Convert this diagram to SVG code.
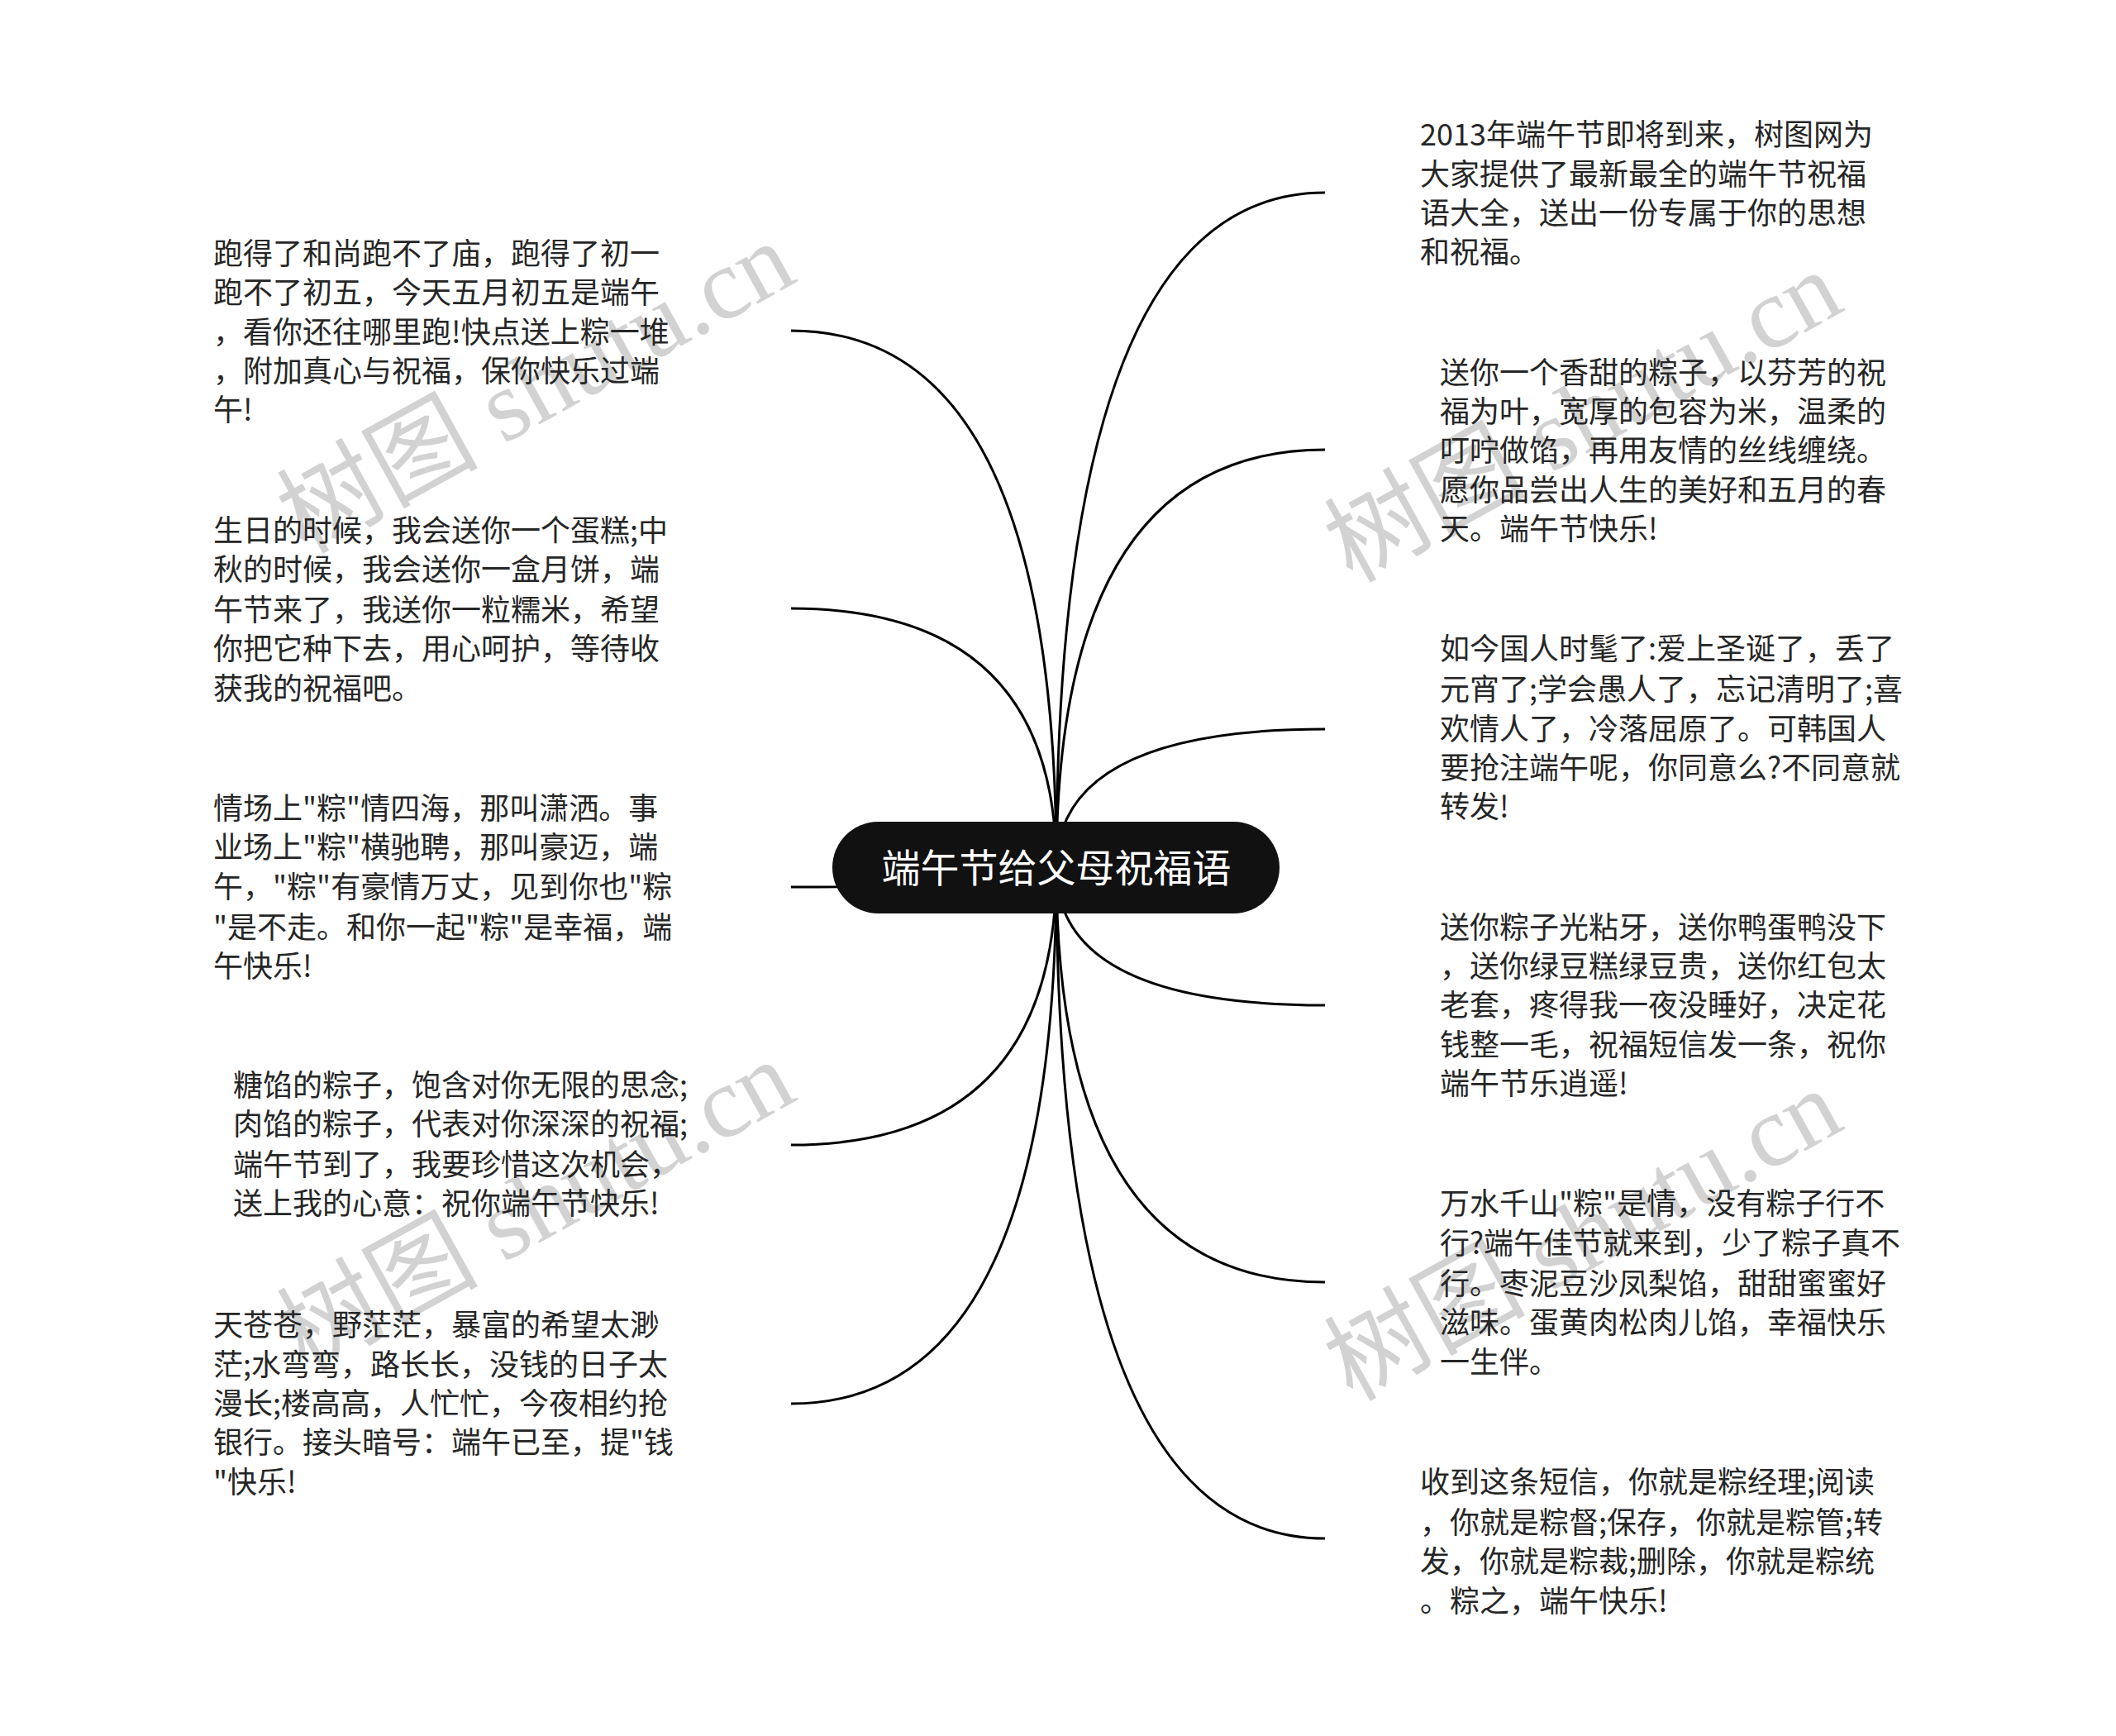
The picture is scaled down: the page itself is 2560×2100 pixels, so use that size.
<svg xmlns="http://www.w3.org/2000/svg" width="2560" height="2100" viewBox="0 0 2560 2100">
<style>
.t{font-family:"Noto Sans CJK SC","Noto Sans",sans-serif;font-size:36px;fill:#262626}
.root{font-family:"Noto Sans CJK SC","Noto Sans",sans-serif;font-size:47px;fill:#fff}
.c{fill:none;stroke:#000;stroke-width:3}
.wm{font-family:"Liberation Serif","Noto Sans CJK SC",serif;font-size:122px;fill:#d2d2d2}
</style>
<rect width="2560" height="2100" fill="#fff"/>
<g id="watermarks">
<text class="wm" transform="translate(668,505) rotate(-29)" text-anchor="middle">树图 shutu.cn</text>
<text class="wm" transform="translate(668,1495) rotate(-29)" text-anchor="middle">树图 shutu.cn</text>
<text class="wm" transform="translate(1935,540) rotate(-29)" text-anchor="middle">树图 shutu.cn</text>
<text class="wm" transform="translate(1935,1530) rotate(-29)" text-anchor="middle">树图 shutu.cn</text>
</g>
<g id="connectors">
<path class="c" d="M1278 1050 Q1278 233 1603 233"/>
<path class="c" d="M1278 1050 Q1278 544 1603 544"/>
<path class="c" d="M1278 1050 Q1278 882 1603 882"/>
<path class="c" d="M1278 1050 Q1278 1216 1603 1216"/>
<path class="c" d="M1278 1050 Q1278 1551 1603 1551"/>
<path class="c" d="M1278 1050 Q1278 1861 1603 1861"/>
<path class="c" d="M1278 1050 Q1278 400 957 400"/>
<path class="c" d="M1278 1050 Q1278 736 957 736"/>
<path class="c" d="M1278 1050 Q1278 1073 957 1073"/>
<path class="c" d="M1278 1050 Q1278 1385 957 1385"/>
<path class="c" d="M1278 1050 Q1278 1698 957 1698"/>
</g>
<g id="root">
<rect x="1007" y="994" width="541" height="111" rx="55.5" fill="#111"/>
<text class="root" x="1278" y="1067" text-anchor="middle">端午节给父母祝福语</text>
</g>
<g id="n-l1">
<text class="t"><tspan x="258" y="320">跑得了和尚跑不了庙，跑得了初一</tspan><tspan x="258" y="367">跑不了初五，今天五月初五是端午</tspan><tspan x="258" y="415">，看你还往哪里跑!快点送上粽一堆</tspan><tspan x="258" y="462">，附加真心与祝福，保你快乐过端</tspan><tspan x="258" y="509">午!</tspan></text>
</g>
<g id="n-l2">
<text class="t"><tspan x="258" y="655">生日的时候，我会送你一个蛋糕;中</tspan><tspan x="258" y="702">秋的时候，我会送你一盒月饼，端</tspan><tspan x="258" y="751">午节来了，我送你一粒糯米，希望</tspan><tspan x="258" y="798">你把它种下去，用心呵护，等待收</tspan><tspan x="258" y="846">获我的祝福吧。</tspan></text>
</g>
<g id="n-l3">
<text class="t"><tspan x="258" y="991">情场上"粽"情四海，那叫潇洒。事</tspan><tspan x="258" y="1038">业场上"粽"横驰聘，那叫豪迈，端</tspan><tspan x="258" y="1086">午，"粽"有豪情万丈，见到你也"粽</tspan><tspan x="258" y="1135">"是不走。和你一起"粽"是幸福，端</tspan><tspan x="258" y="1182">午快乐!</tspan></text>
</g>
<g id="n-l4">
<text class="t"><tspan x="282" y="1326">糖馅的粽子，饱含对你无限的思念;</tspan><tspan x="282" y="1373">肉馅的粽子，代表对你深深的祝福;</tspan><tspan x="282" y="1422">端午节到了，我要珍惜这次机会，</tspan><tspan x="282" y="1469">送上我的心意：祝你端午节快乐!</tspan></text>
</g>
<g id="n-l5">
<text class="t"><tspan x="258" y="1616">天苍苍，野茫茫，暴富的希望太渺</tspan><tspan x="258" y="1664">茫;水弯弯，路长长，没钱的日子太</tspan><tspan x="258" y="1711">漫长;楼高高，人忙忙，今夜相约抢</tspan><tspan x="258" y="1758">银行。接头暗号：端午已至，提"钱</tspan><tspan x="258" y="1806">"快乐!</tspan></text>
</g>
<g id="n-r1">
<text class="t"><tspan x="1718" y="176">2013年端午节即将到来，树图网为</tspan><tspan x="1718" y="224">大家提供了最新最全的端午节祝福</tspan><tspan x="1718" y="271">语大全，送出一份专属于你的思想</tspan><tspan x="1718" y="318">和祝福。</tspan></text>
</g>
<g id="n-r2">
<text class="t"><tspan x="1742" y="464">送你一个香甜的粽子，以芬芳的祝</tspan><tspan x="1742" y="511">福为叶，宽厚的包容为米，温柔的</tspan><tspan x="1742" y="558">叮咛做馅，再用友情的丝线缠绕。</tspan><tspan x="1742" y="606">愿你品尝出人生的美好和五月的春</tspan><tspan x="1742" y="653">天。端午节快乐!</tspan></text>
</g>
<g id="n-r3">
<text class="t"><tspan x="1742" y="798">如今国人时髦了:爱上圣诞了，丢了</tspan><tspan x="1742" y="847">元宵了;学会愚人了，忘记清明了;喜</tspan><tspan x="1742" y="895">欢情人了，冷落屈原了。可韩国人</tspan><tspan x="1742" y="942">要抢注端午呢，你同意么?不同意就</tspan><tspan x="1742" y="989">转发!</tspan></text>
</g>
<g id="n-r4">
<text class="t"><tspan x="1742" y="1135">送你粽子光粘牙，送你鸭蛋鸭没下</tspan><tspan x="1742" y="1182">，送你绿豆糕绿豆贵，送你红包太</tspan><tspan x="1742" y="1229">老套，疼得我一夜没睡好，决定花</tspan><tspan x="1742" y="1277">钱整一毛，祝福短信发一条，祝你</tspan><tspan x="1742" y="1324">端午节乐逍遥!</tspan></text>
</g>
<g id="n-r5">
<text class="t"><tspan x="1742" y="1469">万水千山"粽"是情，没有粽子行不</tspan><tspan x="1742" y="1517">行?端午佳节就来到，少了粽子真不</tspan><tspan x="1742" y="1566">行。枣泥豆沙凤梨馅，甜甜蜜蜜好</tspan><tspan x="1742" y="1613">滋味。蛋黄肉松肉儿馅，幸福快乐</tspan><tspan x="1742" y="1661">一生伴。</tspan></text>
</g>
<g id="n-r6">
<text class="t"><tspan x="1718" y="1806">收到这条短信，你就是粽经理;阅读</tspan><tspan x="1718" y="1855">，你就是粽督;保存，你就是粽管;转</tspan><tspan x="1718" y="1902">发，你就是粽裁;删除，你就是粽统</tspan><tspan x="1718" y="1950">。粽之，端午快乐!</tspan></text>
</g>
</svg>
